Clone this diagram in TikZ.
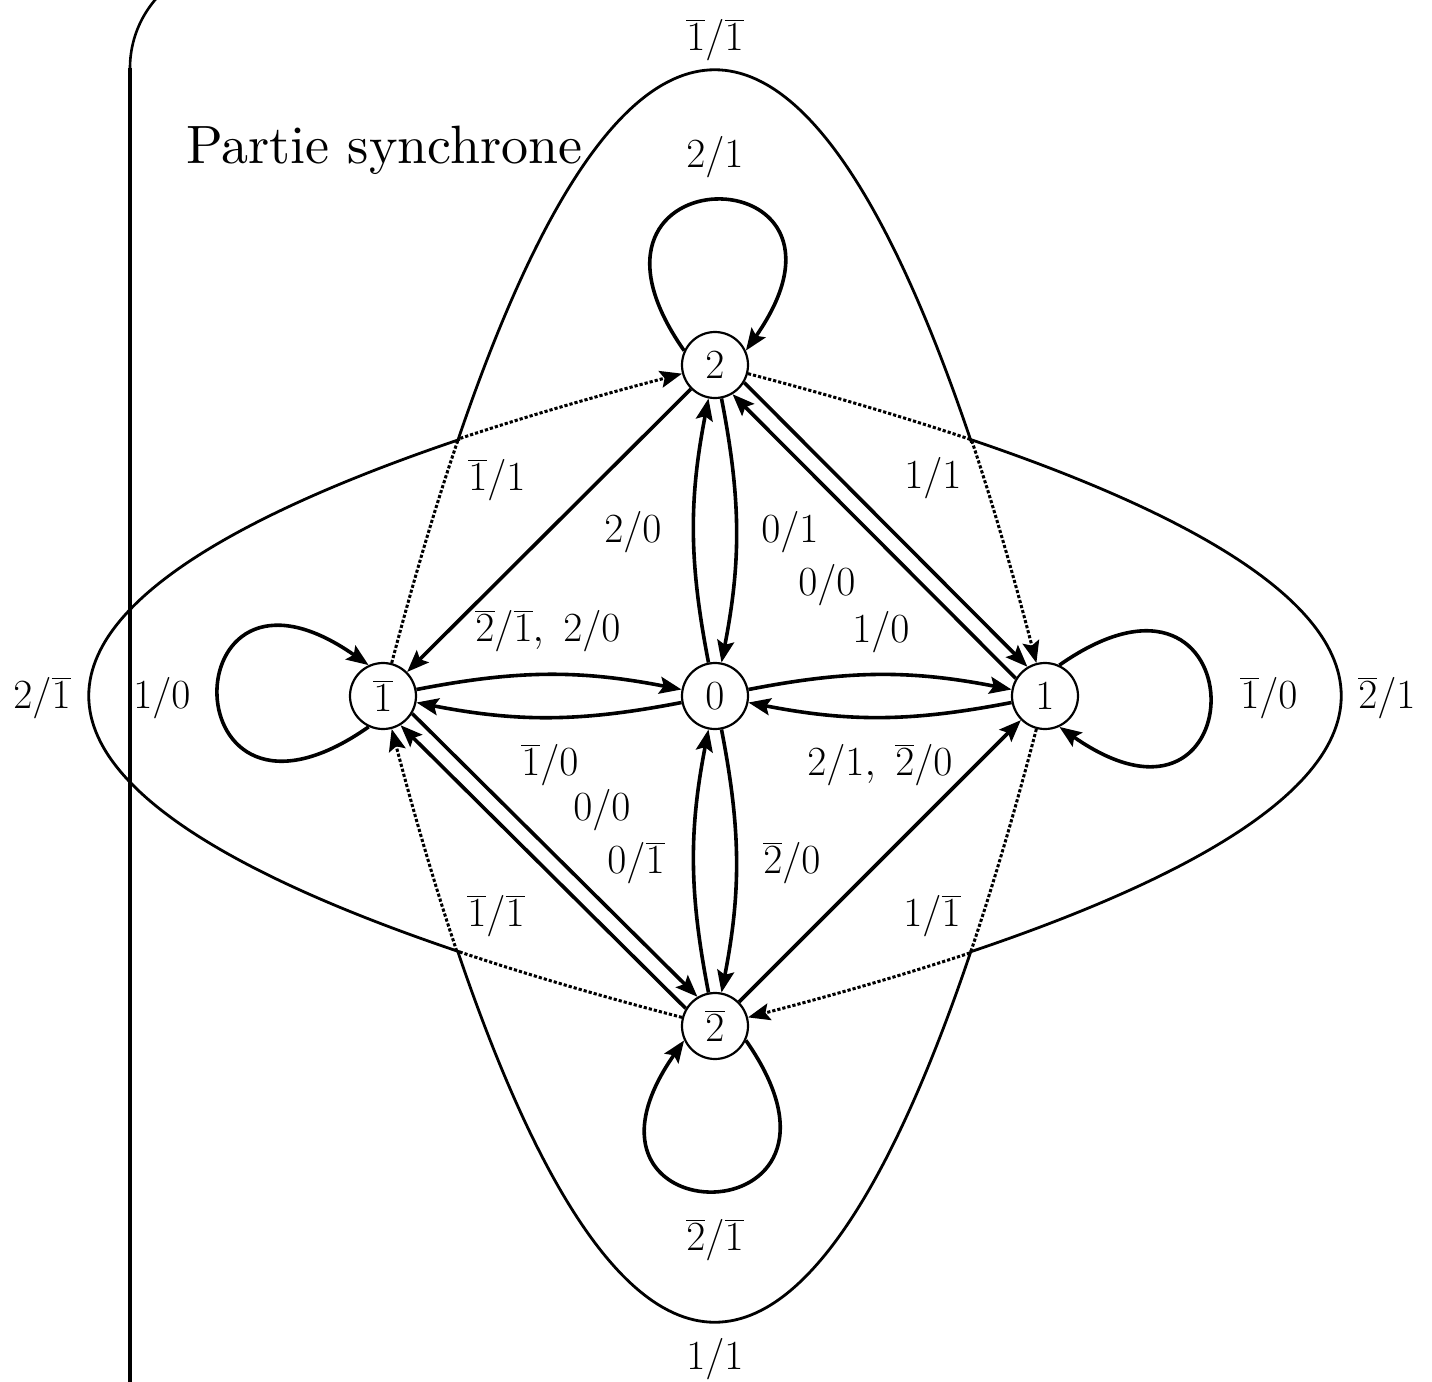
\documentclass[tikz,border=0pt]{standalone}
\usepackage{fontspec}
\newfontfamily\titlefont{lmroman10-regular}[Extension=.otf]
\usetikzlibrary{arrows.meta}
\begin{document}
\begin{tikzpicture}[x=0.5pt,y=0.5pt,
  state/.style={circle,draw,line width=1.1pt,minimum size=33pt,inner sep=0pt,font=\fontsize{21pt}{25pt}\selectfont},
  lab/.style={font=\fontsize{21pt}{25pt}\selectfont,inner sep=0pt,anchor=base},
  edge/.style={line width=1.8pt,-{Stealth[length=11pt,width=8.5pt,inset=2pt]}},
  bigsolid/.style={line width=1.4pt},
  bigdot/.style={line width=1.5pt,dash pattern=on 1.6pt off 1pt,-{Stealth[length=11pt,width=8.5pt,inset=2pt]}}
]
\useasboundingbox (0,0) rectangle (1432,-1382);
\clip (0,0) rectangle (1432,-1382);

% frame
\draw[line width=2pt] (130,-68) -- (130,-1420);
\draw[line width=1.3pt] (130,-68) arc[start angle=180,end angle=120,radius=105];
\node[font=\titlefont\fontsize{27pt}{32pt}\selectfont,anchor=base west,inner sep=0pt] (title) at (186,-163) {Partie synchrone};

% states
\node[state] (p2) at (715,-365) {$2$};
\node[state] (m1) at (383,-696) {$\overline{1}$};
\node[state] (p0) at (715,-696) {$0$};
\node[state] (p1) at (1045,-696) {$1$};
\node[state] (n2) at (715,-1026) {$\overline{2}$};

% big curves: top (m1 -> p1)
\begin{scope}
  \clip (0,0) rectangle (1432,-442);
  \draw[bigsolid] (m1) .. controls (600,128) and (830,128) .. (p1);
\end{scope}
\begin{scope}
  \clip (0,-442) rectangle (1432,-1382);
  \draw[bigdot] (m1) .. controls (600,128) and (830,128) .. (p1);
\end{scope}
% bottom (p1 -> m1)
\begin{scope}
  \clip (0,-950) rectangle (1432,-1382);
  \draw[bigsolid] (p1) .. controls (830,-1520) and (600,-1520) .. (m1);
\end{scope}
\begin{scope}
  \clip (0,0) rectangle (1432,-950);
  \draw[bigdot] (p1) .. controls (830,-1520) and (600,-1520) .. (m1);
\end{scope}
% left (n2 -> p2)
\begin{scope}
  \clip (0,0) rectangle (460,-1382);
  \draw[bigsolid] (n2) .. controls (-109,-811) and (-109,-581) .. (p2);
\end{scope}
\begin{scope}
  \clip (460,0) rectangle (1432,-1382);
  \draw[bigdot] (n2) .. controls (-109,-811) and (-109,-581) .. (p2);
\end{scope}
% right (p2 -> n2)
\begin{scope}
  \clip (970,0) rectangle (1432,-1382);
  \draw[bigsolid] (p2) .. controls (1539,-581) and (1539,-811) .. (n2);
\end{scope}
\begin{scope}
  \clip (0,0) rectangle (970,-1382);
  \draw[bigdot] (p2) .. controls (1539,-581) and (1539,-811) .. (n2);
\end{scope}

% straight edges
\draw[edge] (p2) -- (m1);
\draw[edge] (p2.-31) -- (p1.121);
\draw[edge] (p1.149) -- (p2.-59);
\draw[edge] (m1.-31) -- (n2.121);
\draw[edge] (n2.149) -- (m1.-59);
\draw[edge] (n2) -- (p1);

% curved pairs
\draw[edge] (m1) to[bend left=11] (p0);
\draw[edge] (p0) to[bend left=11] (m1);
\draw[edge] (p0) to[bend left=11] (p1);
\draw[edge] (p1) to[bend left=11] (p0);
\draw[edge] (p0) to[bend left=11] (p2);
\draw[edge] (p2) to[bend left=11] (p0);
\draw[edge] (n2) to[bend left=11] (p0);
\draw[edge] (p0) to[bend left=11] (n2);

% loops
\draw[edge] (p2.155) .. controls +(125:244) and +(55:244) .. (p2.25);
\draw[edge] (p1.65) .. controls +(35:244) and +(-35:244) .. (p1.-65);
\draw[edge] (m1.245) .. controls +(215:244) and +(145:244) .. (m1.115);
\draw[edge] (n2.335) .. controls +(305:244) and +(235:244) .. (n2.205);

% labels
\node[lab] (la) at (715,-50) {$\overline{1}/\overline{1}$};
\node[lab] (lb) at (715,-167) {$2/1$};
\node[lab] (lc) at (497,-490) {$\overline{1}/1$};
\node[lab] (ld) at (633,-542) {$2/0$};
\node[lab] (le) at (790,-542) {$0/1$};
\node[lab] (lf) at (933,-488) {$1/1$};
\node[lab] (lg) at (827,-595) {$0/0$};
\node[lab] (lh) at (548,-641) {$\overline{2}/\overline{1},\ 2/0$};
\node[lab] (li) at (881,-642) {$1/0$};
\node[lab] (lj) at (42,-708) {$2/\overline{1}$};
\node[lab] (lk) at (162,-708) {$1/0$};
\node[lab] (ll) at (1269,-708) {$\overline{1}/0$};
\node[lab] (lm) at (1387,-708) {$\overline{2}/1$};
\node[lab] (ln) at (550,-775) {$\overline{1}/0$};
\node[lab] (lo) at (880,-775) {$2/1,\ \overline{2}/0$};
\node[lab] (lp) at (602,-820) {$0/0$};
\node[lab] (lq) at (636,-873) {$0/\overline{1}$};
\node[lab] (lr) at (792,-873) {$\overline{2}/0$};
\node[lab] (ls) at (496,-926) {$\overline{1}/\overline{1}$};
\node[lab] (lt) at (932,-926) {$1/\overline{1}$};
\node[lab] (lu) at (715,-1250) {$\overline{2}/\overline{1}$};
\node[lab] (lv) at (715,-1369) {$1/1$};
\end{tikzpicture}
\end{document}
